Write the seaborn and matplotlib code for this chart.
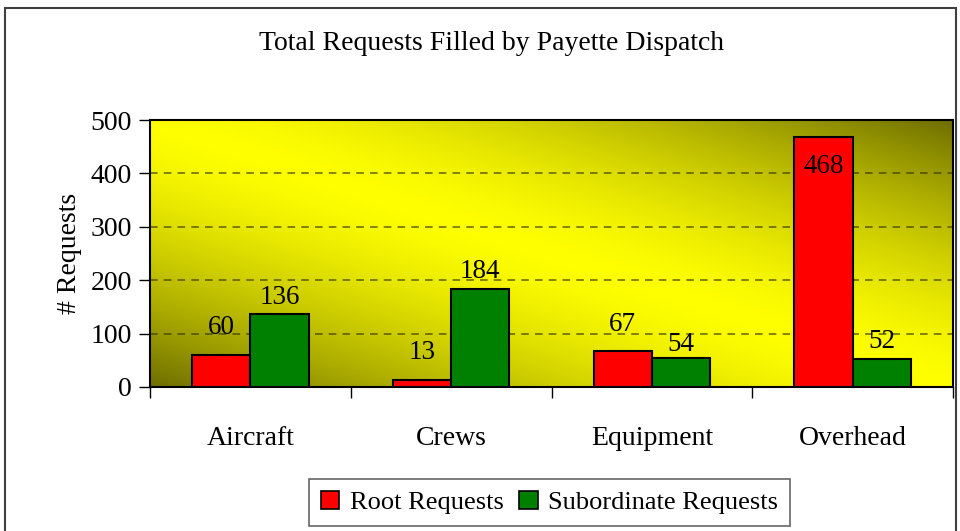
import numpy as np
import pandas as pd
import matplotlib
matplotlib.use("Agg")
import matplotlib.pyplot as plt
import seaborn as sns
from matplotlib.patches import Rectangle

categories = ["Aircraft", "Crews", "Equipment", "Overhead"]
root_requests = [60, 13, 67, 468]
subordinate_requests = [136, 184, 54, 52]
series_names = ["Root Requests", "Subordinate Requests"]
y_ticks = [0, 100, 200, 300, 400, 500]

df = pd.DataFrame({
    "Category": categories * 2,
    "Requests": root_requests + subordinate_requests,
    "Series": [series_names[0]] * 4 + [series_names[1]] * 4,
})

sns.set_theme(style="white")
plt.rcParams["font.family"] = ["Liberation Serif", "DejaVu Serif"]
plt.rcParams["text.color"] = "black"
plt.rcParams["axes.labelcolor"] = "black"
plt.rcParams["xtick.color"] = "black"
plt.rcParams["ytick.color"] = "black"

fig = plt.figure(figsize=(9.6, 5.31), dpi=100)
ax = fig.add_axes([150/960, 1-387/531, (953-150)/960, (387-120)/531])

# gradient background: dark in bottom-left and top-right corners, yellow along the other diagonal
nx, ny = 400, 200
xx, yy = np.meshgrid(np.linspace(0, 1, nx), np.linspace(0, 1, ny))
v = np.clip(np.abs(xx + yy - 1.0), 0, 1)
t = v ** 1.5
yellow = np.array([1.0, 1.0, 0.0])
dark = np.array([0x6e, 0x6e, 0x00]) / 255.0
img = yellow[None, None, :] * (1 - t[..., None]) + dark[None, None, :] * t[..., None]
ax.imshow(img, extent=[0, 1, 0, 1], transform=ax.transAxes,
          origin="lower", aspect="auto", zorder=0)

sns.barplot(data=df, x="Category", y="Requests", hue="Series",
            palette=["#ff0000", "#008000"], width=0.58, dodge=True,
            edgecolor="black", linewidth=1.5, saturation=1, ax=ax, zorder=3,
            legend=True)

ax.set_xlim(-0.5, 3.5)
ax.set_ylim(0, 500)
ax.set_yticks(y_ticks)
ax.set_yticklabels([str(t) for t in y_ticks], fontsize=20)
for tk in y_ticks[1:-1]:
    ax.axhline(tk, color="#333300", lw=1.1, ls=(0, (5, 4)), alpha=0.75, zorder=1)

ax.set_xticks(np.arange(len(categories)))
ax.set_xticklabels(categories, fontsize=20)
ax.tick_params(axis="x", which="major", length=0, pad=28)
ax.set_xticks(np.arange(-0.5, len(categories), 1.0), minor=True)
ax.tick_params(axis="x", which="minor", length=8, width=1, color="black", direction="out", bottom=True)
ax.tick_params(axis="y", length=8, width=1, color="black", direction="out", left=True, pad=5)

ax.set_xlabel("")
ax.set_ylabel("# Requests", fontsize=20, labelpad=6)
for s in ax.spines.values():
    s.set_visible(True)
    s.set_color("black")
    s.set_linewidth(1.5)

# data labels (offsets in points from bar top)
bw = 0.29
label_offsets = [[19.5, 19.5, 19.5, -21.5], [12.5, 12.5, 9.5, 12.5]]
for si, vals in enumerate([root_requests, subordinate_requests]):
    for ci, val in enumerate(vals):
        x = ci + (-bw/2 if si == 0 else bw/2)
        ax.annotate(str(val), xy=(x, val), xytext=(0, label_offsets[si][ci]),
                    textcoords="offset points", ha="center", va="center",
                    fontsize=19.5, color="black", zorder=5)

leg = ax.legend(loc="center", bbox_to_anchor=(549.5/960, 1-502.5/531),
                bbox_transform=fig.transFigure, ncol=2, fontsize=19,
                frameon=True, fancybox=False, handlelength=0.7, handleheight=0.7,
                handletextpad=0.4, columnspacing=0.6, borderpad=0.45,
                borderaxespad=0)
leg.get_frame().set_edgecolor("#404040")
leg.get_frame().set_linewidth(1.2)
for p in leg.get_patches():
    p.set_edgecolor("black")
    p.set_linewidth(1.2)

fig.text(492/960, 1-43/531, "Total Requests Filled by Payette Dispatch",
         ha="center", va="center", fontsize=20)

fig.patches.append(Rectangle((5/960, -0.05), 951/960, 1.05 - 8/531,
                             transform=fig.transFigure, fill=False,
                             edgecolor="#404040", linewidth=1.5))

fig.savefig("out.png", dpi=100)
